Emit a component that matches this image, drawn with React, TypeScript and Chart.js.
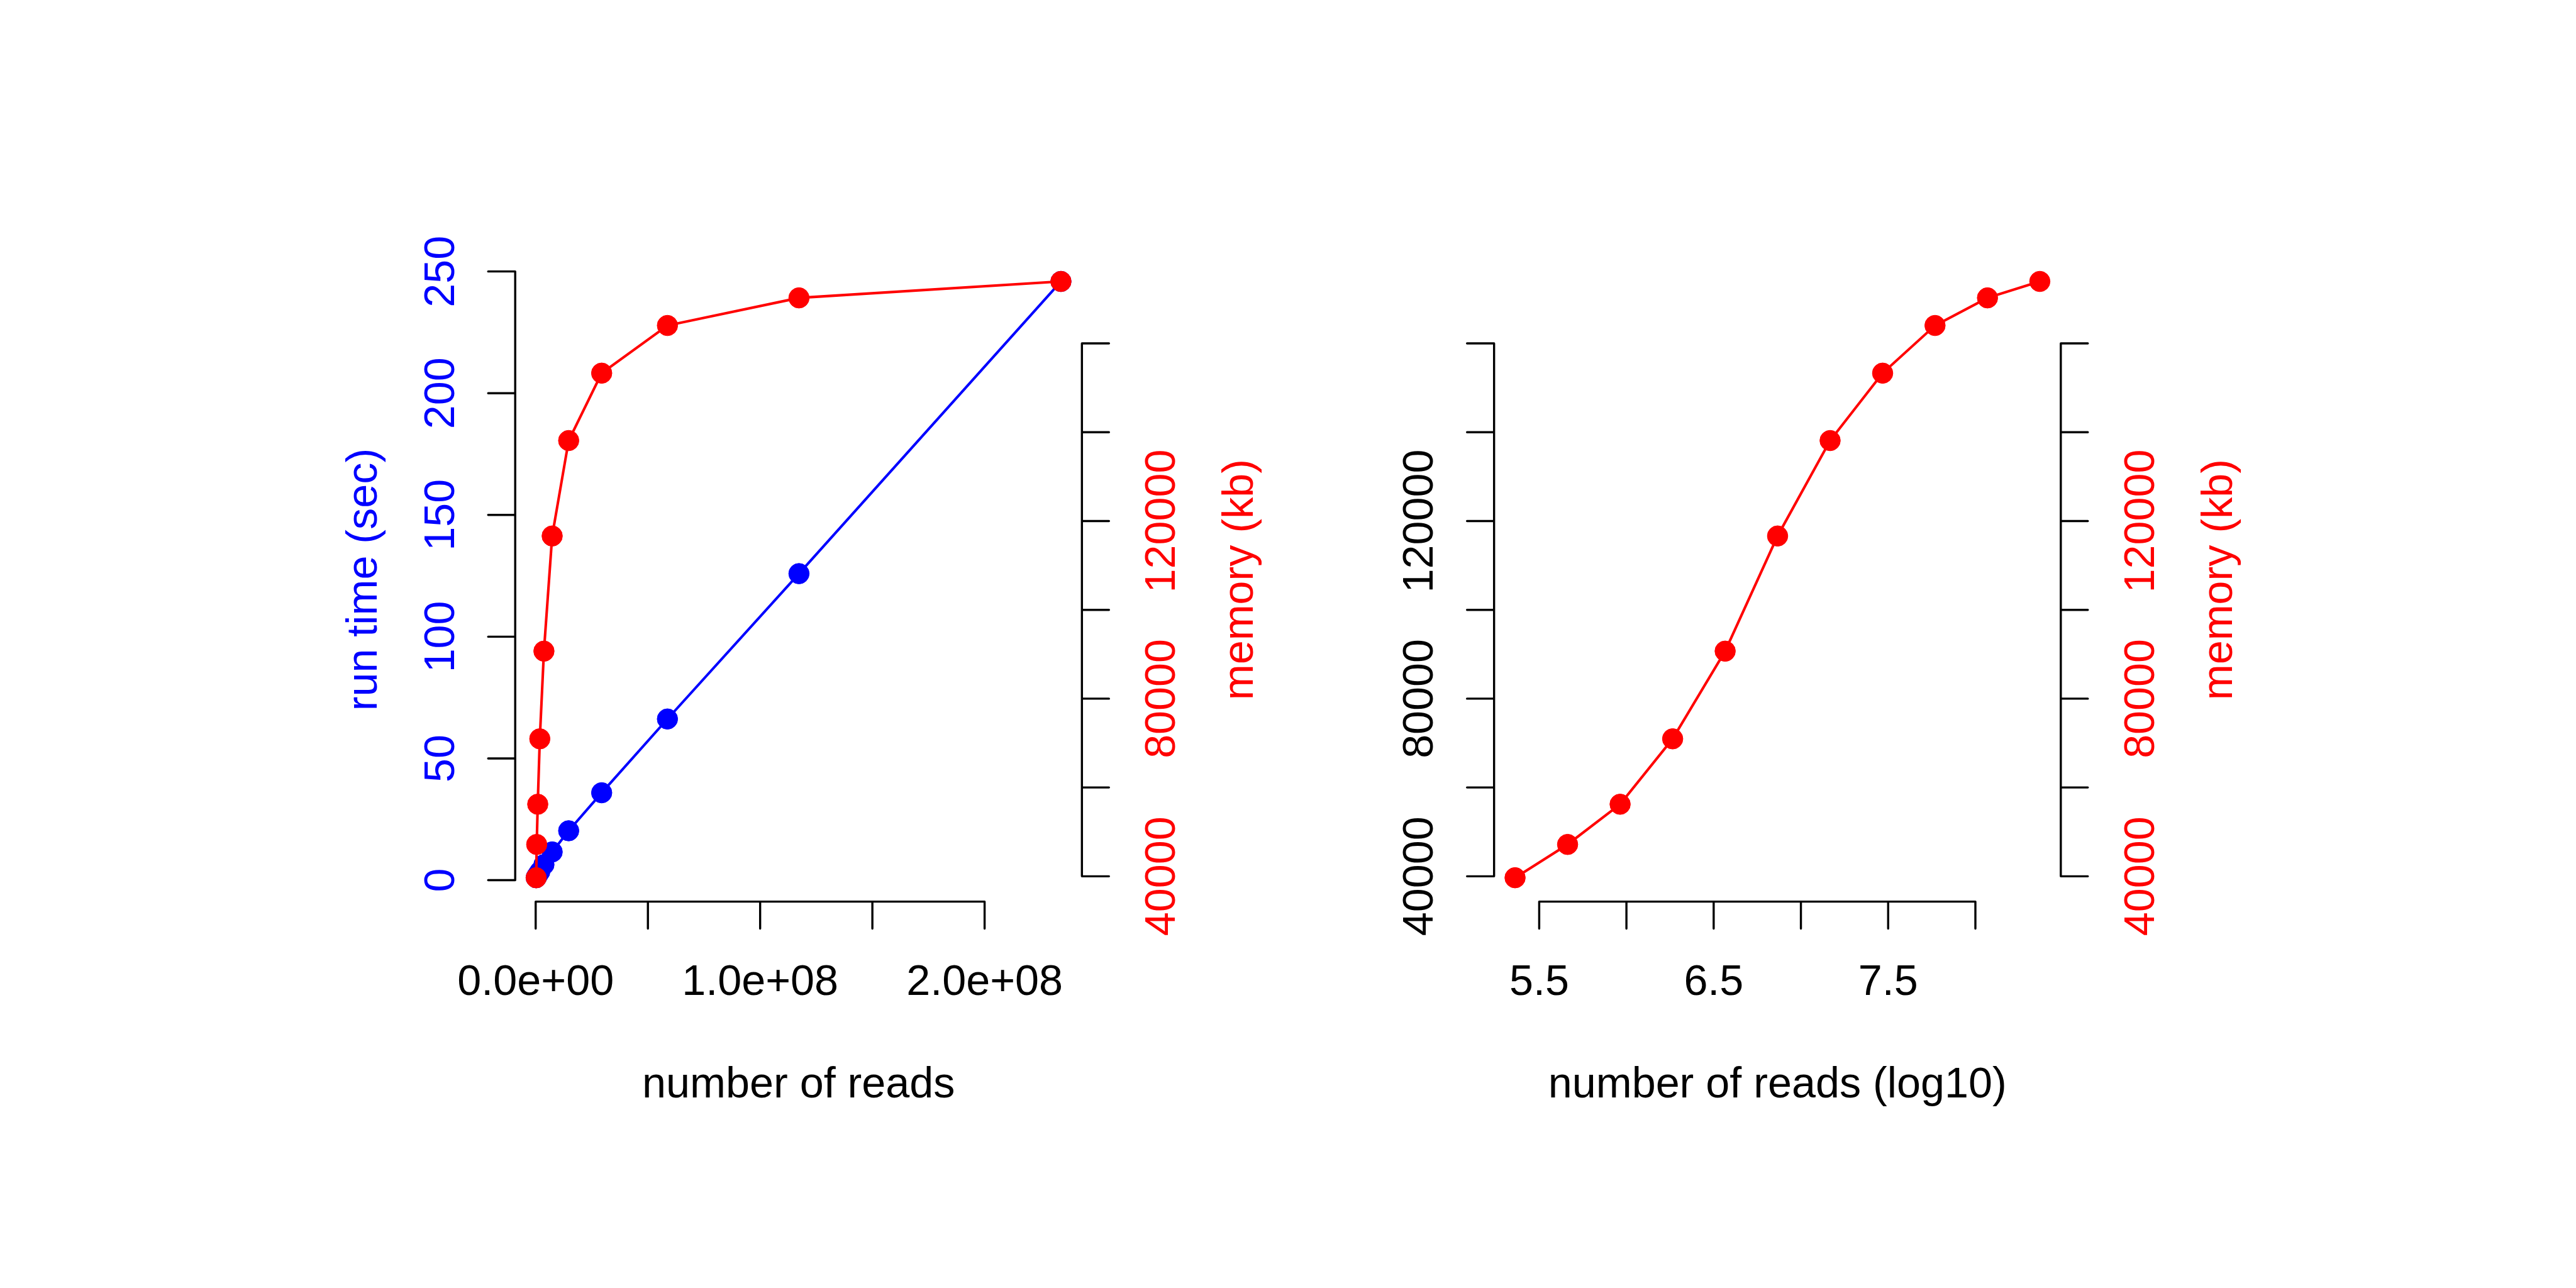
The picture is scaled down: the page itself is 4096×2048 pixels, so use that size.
import React, { useEffect, useRef } from "react";
import { Chart, registerables } from "chart.js";

Chart.register(...registerables);

// ---------------- data ----------------
const reads = [230000, 460000, 920000, 1840000, 3680000, 7350000, 14700000, 29400000, 58700000, 117300000, 234000000];
const runtimeSec = [1.0, 1.5, 2.2, 3.5, 6.4, 11.6, 20.3, 35.9, 66.2, 125.9, 245.9];
const memoryKb = [39670, 47170, 56220, 70950, 90700, 116630, 138120, 153300, 164030, 170250, 173950];

const runtimeTicks = [0, 50, 100, 150, 200, 250];
const runtimeTickLabels = ["0", "50", "100", "150", "200", "250"];
const memoryTicks = [40000, 60000, 80000, 100000, 120000, 140000, 160000];
const memoryTickLabels = ["40000", "", "80000", "", "120000", "", ""];
const readsTicks = [0, 5e7, 1e8, 1.5e8, 2e8];
const readsTickLabels = ["0.0e+00", "", "1.0e+08", "", "2.0e+08"];
const logReadsTicks = [5.5, 6, 6.5, 7, 7.5, 8];
const logReadsTickLabels = ["5.5", "", "6.5", "", "7.5", ""];

// ---------------- styling ----------------
const S = 4096 / 6000;
const BLUE = "#0000FF";
const RED = "#FF0000";
const FONT = `${(100 * S).toFixed(1)}px "Liberation Sans", Arial, Helvetica, sans-serif`;
const AXIS_LW = 3.4;
const DATA_LW = 4.1;
const TICK_LEN = 63 * S;
const POINT_R = 16.3;

type AxisSpec = {
  scaleId: string;
  side: "left" | "right" | "bottom";
  ticks: number[];
  labels: string[];
  color: string;
  title?: string;
};

function rRange(v: number[]) {
  const lo = Math.min(...v);
  const hi = Math.max(...v);
  const d = (hi - lo) * 0.04;
  return { min: lo - d, max: hi + d };
}

function axesPlugin(specs: AxisSpec[]) {
  return {
    id: "rStyleAxes",
    afterDraw(chart: any) {
      const ctx: CanvasRenderingContext2D = chart.ctx;
      const area = chart.chartArea;
      ctx.save();
      ctx.font = FONT;
      for (const spec of specs) {
        const scale = chart.scales[spec.scaleId];
        const px = spec.ticks.map((t) => scale.getPixelForValue(t));
        ctx.strokeStyle = "#000";
        ctx.lineWidth = AXIS_LW;
        ctx.lineCap = "round";
        ctx.beginPath();
        if (spec.side === "bottom") {
          const y0 = area.bottom;
          ctx.moveTo(px[0], y0);
          ctx.lineTo(px[px.length - 1], y0);
          px.forEach((p) => {
            ctx.moveTo(p, y0);
            ctx.lineTo(p, y0 + TICK_LEN);
          });
          ctx.stroke();
          ctx.fillStyle = spec.color;
          ctx.textAlign = "center";
          ctx.textBaseline = "alphabetic";
          spec.labels.forEach((lab, i) => {
            if (lab) ctx.fillText(lab, px[i], y0 + 217 * S);
          });
          if (spec.title) {
            ctx.fillStyle = "#000";
            ctx.fillText(spec.title, (area.left + area.right) / 2, y0 + 456 * S);
          }
        } else {
          const left = spec.side === "left";
          const x0 = left ? area.left : area.right;
          const dir = left ? -1 : 1;
          ctx.moveTo(x0, px[0]);
          ctx.lineTo(x0, px[px.length - 1]);
          px.forEach((p) => {
            ctx.moveTo(x0, p);
            ctx.lineTo(x0 + dir * TICK_LEN, p);
          });
          ctx.stroke();
          ctx.fillStyle = spec.color;
          ctx.textAlign = "center";
          ctx.textBaseline = "alphabetic";
          const labOff = left ? -143 * S : 217 * S;
          spec.labels.forEach((lab, i) => {
            if (!lab) return;
            ctx.save();
            ctx.translate(x0 + labOff, px[i]);
            ctx.rotate(-Math.PI / 2);
            ctx.fillText(lab, 0, 0);
            ctx.restore();
          });
          if (spec.title) {
            const tOff = left ? -323 * S : 398 * S;
            ctx.save();
            ctx.translate(x0 + tOff, (area.top + area.bottom) / 2);
            ctx.rotate(-Math.PI / 2);
            ctx.fillText(spec.title, 0, 0);
            ctx.restore();
          }
        }
      }
      ctx.restore();
    },
  };
}

function seriesStyle(color: string) {
  return {
    borderColor: color,
    backgroundColor: color,
    pointBackgroundColor: color,
    pointBorderColor: color,
    pointRadius: POINT_R,
    pointBorderWidth: 1,
    borderWidth: DATA_LW,
    tension: 0,
    clip: false as const,
  };
}

const baseOptions = (padding: any) => ({
  responsive: false,
  animation: false as const,
  devicePixelRatio: 1,
  events: [] as any[],
  layout: { padding },
  plugins: { legend: { display: false }, tooltip: { enabled: false } },
});

function leftConfig(): any {
  return {
    type: "line",
    data: {
      datasets: [
        {
          label: "memory (kb)",
          data: reads.map((r, i) => ({ x: r, y: memoryKb[i] })),
          xAxisID: "x",
          yAxisID: "yMem",
          order: 0,
          ...seriesStyle(RED),
        },
        {
          label: "run time (sec)",
          data: reads.map((r, i) => ({ x: r, y: runtimeSec[i] })),
          xAxisID: "x",
          yAxisID: "yTime",
          order: 1,
          ...seriesStyle(BLUE),
        },
      ],
    },
    options: {
      ...baseOptions({ left: 1200 * S, right: 2048 - 2520 * S, top: 600 * S, bottom: 2048 - 2100 * S }),
      scales: {
        x: { type: "linear", display: false, ...rRange(reads) },
        yTime: { type: "linear", display: false, ...rRange(runtimeSec) },
        yMem: { type: "linear", display: false, ...rRange(memoryKb) },
      },
    },
    plugins: [
      axesPlugin([
        { scaleId: "x", side: "bottom", ticks: readsTicks, labels: readsTickLabels, color: "#000", title: "number of reads" },
        { scaleId: "yTime", side: "left", ticks: runtimeTicks, labels: runtimeTickLabels, color: BLUE, title: "run time (sec)" },
        { scaleId: "yMem", side: "right", ticks: memoryTicks, labels: memoryTickLabels, color: RED, title: "memory (kb)" },
      ]),
    ],
  };
}

function rightConfig(): any {
  const logReads = reads.map((r) => Math.log10(r));
  return {
    type: "line",
    data: {
      datasets: [
        {
          label: "memory (kb)",
          data: logReads.map((r, i) => ({ x: r, y: memoryKb[i] })),
          xAxisID: "x",
          yAxisID: "yMem",
          ...seriesStyle(RED),
        },
      ],
    },
    options: {
      ...baseOptions({ left: 3480 * S - 2048, right: 4096 - 4800 * S, top: 600 * S, bottom: 2048 - 2100 * S }),
      scales: {
        x: { type: "linear", display: false, ...rRange(logReads) },
        yMem: { type: "linear", display: false, ...rRange(memoryKb) },
      },
    },
    plugins: [
      axesPlugin([
        { scaleId: "x", side: "bottom", ticks: logReadsTicks, labels: logReadsTickLabels, color: "#000", title: "number of reads (log10)" },
        { scaleId: "yMem", side: "left", ticks: memoryTicks, labels: memoryTickLabels, color: "#000" },
        { scaleId: "yMem", side: "right", ticks: memoryTicks, labels: memoryTickLabels, color: RED, title: "memory (kb)" },
      ]),
    ],
  };
}

export default function App() {
  const leftRef = useRef<HTMLCanvasElement>(null);
  const rightRef = useRef<HTMLCanvasElement>(null);

  useEffect(() => {
    document.body.style.margin = "0";
    const charts = [
      new Chart(leftRef.current as HTMLCanvasElement, leftConfig()),
      new Chart(rightRef.current as HTMLCanvasElement, rightConfig()),
    ];
    return () => charts.forEach((c) => c.destroy());
  }, []);

  return (
    <div style={{ position: "absolute", left: 0, top: 0, width: 4096, height: 2048, background: "#ffffff" }}>
      <canvas
        ref={leftRef}
        width={2048}
        height={2048}
        style={{ position: "absolute", left: 0, top: 0, width: 2048, height: 2048 }}
      />
      <canvas
        ref={rightRef}
        width={2048}
        height={2048}
        style={{ position: "absolute", left: 2048, top: 0, width: 2048, height: 2048 }}
      />
    </div>
  );
}
